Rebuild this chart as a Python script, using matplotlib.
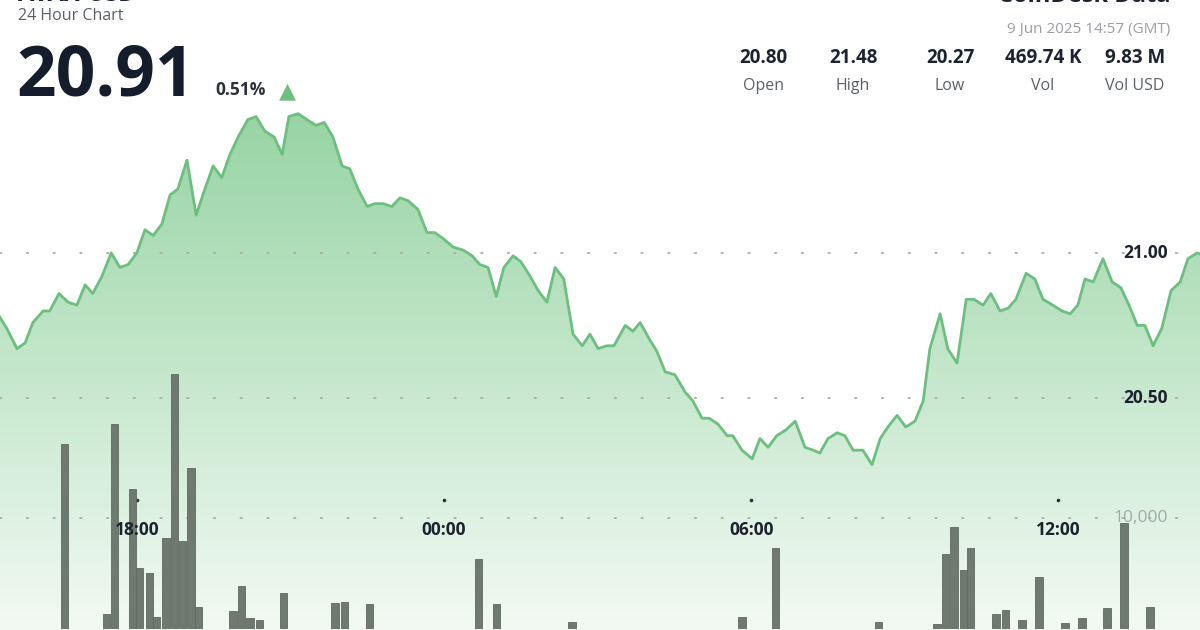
#24 hour price chart with volume bars

import numpy as np
import matplotlib
matplotlib.use("Agg")
import matplotlib.pyplot as plt
import matplotlib.transforms as mtransforms
from matplotlib.patches import Polygon

plt.rcParams['font.family'] = ['Open Sans', 'DejaVu Sans']

#Price series, hours relative to 00:00 on 9 Jun (GMT)
tHr = [-8.75, -8.54, -8.34, -8.18, -8.03, -7.83, -7.70, -7.52, -7.34, -7.17,
       -7.01, -6.86, -6.68, -6.50, -6.33, -6.17, -6.00, -5.84, -5.68, -5.51,
       -5.35, -5.20, -5.02, -4.84, -4.69, -4.51, -4.34, -4.18, -4.02, -3.83,
       -3.67, -3.50, -3.32, -3.16, -3.03, -2.85, -2.68, -2.50, -2.34, -2.17,
       -1.99, -1.84, -1.68, -1.50, -1.35, -1.19, -1.02, -0.86, -0.70, -0.51,
       -0.33, -0.18, -0.02, 0.18, 0.37, 0.55, 0.70, 0.86, 1.02, 1.17,
       1.35, 1.50, 1.68, 1.84, 2.01, 2.17, 2.34, 2.52, 2.70, 2.85,
       3.01, 3.18, 3.32, 3.54, 3.69, 3.83, 4.02, 4.16, 4.32, 4.51,
       4.71, 4.86, 5.04, 5.18, 5.35, 5.53, 5.64, 5.82, 6.02, 6.17,
       6.33, 6.50, 6.68, 6.86, 7.05, 7.21, 7.34, 7.50, 7.68, 7.83,
       7.99, 8.18, 8.36, 8.52, 8.67, 8.85, 9.02, 9.20, 9.36, 9.49,
       9.69, 9.84, 10.02, 10.20, 10.35, 10.53, 10.68, 10.86, 11.02, 11.17,
       11.37, 11.54, 11.70, 11.89, 12.07, 12.23, 12.38, 12.52, 12.68, 12.87,
       13.05, 13.22, 13.38, 13.54, 13.69, 13.85, 14.02, 14.20, 14.38, 14.53,
       14.71, 14.85]
price = [20.80, 20.74, 20.67, 20.69, 20.76, 20.80, 20.80, 20.86, 20.83, 20.82,
         20.89, 20.86, 20.92, 21.00, 20.95, 20.96, 21.00, 21.08, 21.06, 21.10,
         21.20, 21.22, 21.32, 21.13, 21.21, 21.30, 21.26, 21.34, 21.40, 21.46,
         21.47, 21.42, 21.40, 21.34, 21.47, 21.48, 21.46, 21.44, 21.45, 21.40,
         21.30, 21.29, 21.22, 21.16, 21.17, 21.17, 21.16, 21.19, 21.18, 21.15,
         21.07, 21.07, 21.05, 21.02, 21.01, 20.99, 20.96, 20.95, 20.85, 20.95,
         20.99, 20.97, 20.92, 20.87, 20.83, 20.95, 20.91, 20.72, 20.68, 20.72,
         20.67, 20.68, 20.68, 20.75, 20.73, 20.76, 20.70, 20.66, 20.59, 20.58,
         20.52, 20.49, 20.43, 20.43, 20.41, 20.37, 20.37, 20.32, 20.29, 20.36,
         20.33, 20.37, 20.39, 20.42, 20.33, 20.32, 20.31, 20.36, 20.38, 20.37,
         20.32, 20.32, 20.27, 20.36, 20.40, 20.44, 20.40, 20.42, 20.49, 20.67,
         20.79, 20.67, 20.62, 20.84, 20.84, 20.82, 20.86, 20.80, 20.81, 20.84,
         20.93, 20.91, 20.84, 20.82, 20.80, 20.79, 20.82, 20.91, 20.90, 20.98,
         20.90, 20.88, 20.82, 20.75, 20.75, 20.68, 20.74, 20.87, 20.90, 20.98,
         21.00, 20.99]

#Volume bars
vHr = [-7.42, -6.60, -6.43, -6.09, -5.94, -5.76, -5.61, -5.43, -5.27, -5.10,
       -4.94, -4.79, -4.12, -3.95, -3.79, -3.61, -3.13, -2.13, -1.95, -1.46,
       0.68, 1.02, 2.50, 5.82, 6.48, 8.48, 9.63, 9.80, 9.96, 10.14,
       10.29, 10.78, 10.96, 11.29, 11.62, 12.13, 12.46, 12.95, 13.28, 13.79]
vol = [16700, 1300, 18500, 12600, 5400, 5000, 1000, 8200, 23000, 7900,
       14500, 1900, 1500, 3800, 900, 700, 3200, 2300, 2400, 2200,
       6300, 2200, 550, 1000, 7300, 550, 400, 6700, 9200, 5300,
       7300, 1300, 1600, 700, 4600, 450, 900, 1800, 9500, 1900]

tickHr = [-6, 0, 6, 12]
tickLab = ["18:00", "00:00", "06:00", "12:00"]
pGrid = [21.00, 20.50]
vGrid = 10000

statVal = ["20.80", "21.48", "20.27", "469.74 K", "9.83 M"]
statLab = ["Open", "High", "Low", "Vol", "Vol USD"]

W, H = 1200, 630
xLim = (-8.672, 14.766)
pLim = (19.700, 21.872)
vLim = (-180, 56940)

lCol = '#6dbf80'
barCol = '#6e7a70'
dotCol = '#a9abab'
darkCol = '#1c2230'
greyCol = '#5b6067'

fig = plt.figure(figsize=(W/100.0, H/100.0), dpi=100)
ax = fig.add_axes([0, 0, 1, 1])
ax.set_axis_off()

def fx(px):
	return px/float(W)
def fy(py):
	return 1.0 - py/float(H)

#Gradient fill under price line
verts = list(zip(tHr, price)) + [(tHr[-1], pLim[0]), (tHr[0], pLim[0])]
poly = Polygon(verts, closed=True, facecolor='none', edgecolor='none')
ax.add_patch(poly)
Ng = 256
cTop = np.array([0.59, 0.83, 0.64])
cBot = np.array([0.95, 0.98, 0.955])
fr = np.linspace(0, 1, Ng)[:, None]
grad = cBot[None, :]*(1-fr) + cTop[None, :]*fr
grad = np.repeat(grad[:, None, :], 2, axis=1)
im = ax.imshow(grad, extent=[xLim[0], xLim[1], pLim[0], 21.50], origin='lower',
               aspect='auto', zorder=1, interpolation='bilinear')
im.set_clip_path(poly)

#Dotted grid
for pg in pGrid:
	ax.axhline(pg, color=dotCol, lw=1.3, dashes=(0.8, 14), dash_capstyle='round', zorder=2)

ax.plot(tHr, price, color=lCol, lw=2.0, zorder=4, solid_joinstyle='round')

ax.set_xlim(xLim)
ax.set_ylim(pLim)

#Small tick dots above time labels
bt = mtransforms.blended_transform_factory(ax.transData, ax.transAxes)
ax.plot(tickHr, [fy(500)]*len(tickHr), transform=bt, ls='none', marker='o', ms=1.6,
        color='#333333', zorder=2)

#Volume axis
ax2 = ax.twinx()
ax2.set_axis_off()
ax2.axhline(vGrid, color=dotCol, lw=1.3, dashes=(0.8, 14), dash_capstyle='round', zorder=1)
ax2.bar(vHr, vol, width=0.14, color=barCol, edgecolor='#5f6a61', lw=0.6, zorder=3)
ax2.set_ylim(vLim)
ax2.set_xlim(xLim)

#Axis labels
bt2 = mtransforms.blended_transform_factory(ax2.transData, ax2.transAxes)
for th, tl in zip(tickHr, tickLab):
	ax2.text(th, fy(530), tl, transform=bt2, ha='center', va='center',
	         fontsize=12.5, fontweight='bold', color=darkCol, zorder=6)
for pg in pGrid:
	ax.text(fx(1168), pg, "%.2f" % pg, transform=mtransforms.blended_transform_factory(ax.transAxes, ax.transData),
	        ha='right', va='center', fontsize=12.5, fontweight='bold', color=darkCol, zorder=6)
ax2.text(fx(1168), vGrid, "{:,}".format(vGrid),
         transform=mtransforms.blended_transform_factory(ax2.transAxes, ax2.transData),
         ha='right', va='center', fontsize=12.5, color='#a3aaa4', zorder=6)

#Header (top row is cut by the frame, as in the source image)
fig.text(fx(18), fy(1), "AVAX-USD", ha='left', va='baseline', fontsize=17, fontweight='bold', color=darkCol)
fig.text(fx(1170), fy(2), "CoinDesk Data", ha='right', va='baseline', fontsize=17, fontweight='bold', color=darkCol)
fig.text(fx(18), fy(16), "24 Hour Chart", ha='left', va='center', fontsize=11.5, color=greyCol)
fig.text(fx(16), fy(95), "20.91", ha='left', va='baseline', fontsize=50, fontweight='bold', color='#151c2c')
fig.text(fx(215), fy(95), "0.51%", ha='left', va='baseline', fontsize=12.5, fontweight='bold', color='#2b303b')
fig.text(fx(279), fy(97), u"\u25B2", ha='left', va='baseline', fontsize=16, color=lCol,
         family=['DejaVu Sans'])
fig.text(fx(1170), fy(30), "9 Jun 2025 14:57 (GMT)", ha='right', va='center', fontsize=11, color='#9a9ea3')

sX = [763, 853, 950, 1043, 1135]
for i in range(len(statVal)):
	fig.text(fx(sX[i]), fy(58), statVal[i], ha='center', va='center', fontsize=13.5, fontweight='bold', color=darkCol)
	fig.text(fx(sX[i]), fy(86), statLab[i], ha='center', va='center', fontsize=11.5, color=greyCol)

fig.savefig("out.png", dpi=100)
plt.close('all')
